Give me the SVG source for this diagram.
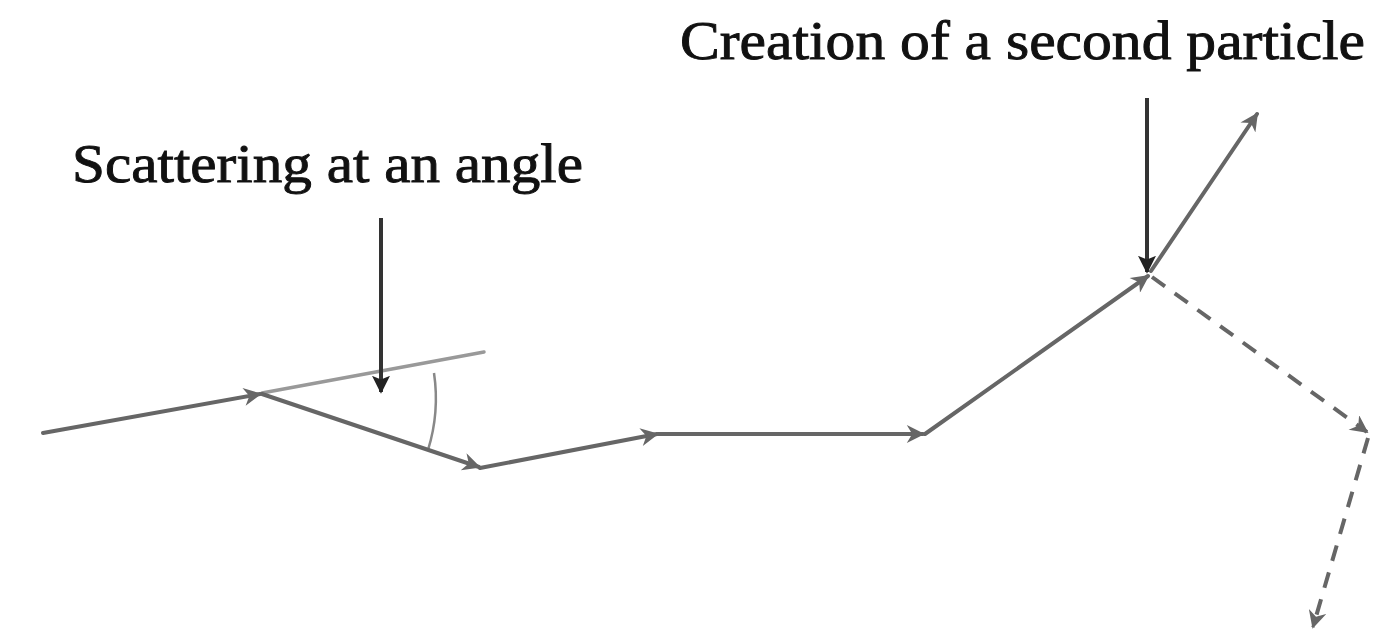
<svg xmlns="http://www.w3.org/2000/svg" width="1389" height="642" viewBox="0 0 1389 642">
<style>
.lbl{font-family:"Liberation Serif","DejaVu Serif",serif;font-size:54px;fill:#111;stroke:#111;stroke-width:0.9}
.trk{stroke:#666;stroke-width:4;fill:none;stroke-linecap:round}
.dash{stroke:#666;stroke-width:4;fill:none;stroke-dasharray:16 12}
.ptr{stroke:#333;stroke-width:4;fill:none}
</style>
<defs>
<marker id="ah" viewBox="0 0 10 10" refX="9" refY="5" markerWidth="5" markerHeight="4.5" orient="auto" markerUnits="strokeWidth">
<path d="M0,0 L10,5 L0,10 L3,5 z" fill="#666"/>
</marker>
<marker id="ahb" viewBox="0 0 10 10" refX="9" refY="5" markerWidth="4.5" markerHeight="5" orient="auto" markerUnits="strokeWidth">
<path d="M0,0 L10,5 L0,10 L2,5 z" fill="#222"/>
</marker>
</defs>
<g id="label-scattering"><text class="lbl" x="72" y="182" textLength="511" lengthAdjust="spacingAndGlyphs">Scattering at an angle</text></g>
<g id="label-creation"><text class="lbl" x="680" y="59" textLength="685" lengthAdjust="spacingAndGlyphs">Creation of a second particle</text></g>
<g id="angle">
<line x1="262" y1="393" x2="484" y2="352" stroke="#999" stroke-width="3.5" stroke-linecap="round"/>
<path d="M434,373 A174,174 0 0 1 428,450" stroke="#888" stroke-width="2.5" fill="none"/>
</g>
<g id="connectors">
<line class="trk" x1="43" y1="433" x2="260" y2="394" marker-end="url(#ah)"/>
<line class="trk" x1="262" y1="394" x2="479" y2="467" marker-end="url(#ah)"/>
<line class="trk" x1="480" y1="468" x2="657" y2="434" marker-end="url(#ah)"/>
<line class="trk" x1="658" y1="434" x2="923" y2="434" marker-end="url(#ah)"/>
<line class="trk" x1="925" y1="434" x2="1148" y2="276" marker-end="url(#ah)"/>
<line class="trk" x1="1151" y1="271" x2="1257" y2="114" marker-end="url(#ah)"/>
<line class="dash" x1="1152" y1="277" x2="1367" y2="432" marker-end="url(#ah)"/>
<line class="dash" x1="1368" y1="438" x2="1313" y2="627" marker-end="url(#ah)"/>
<line class="ptr" x1="381" y1="218" x2="381" y2="392" marker-end="url(#ahb)"/>
<line class="ptr" x1="1147" y1="98" x2="1147" y2="272" marker-end="url(#ahb)"/>
</g>
</svg>
